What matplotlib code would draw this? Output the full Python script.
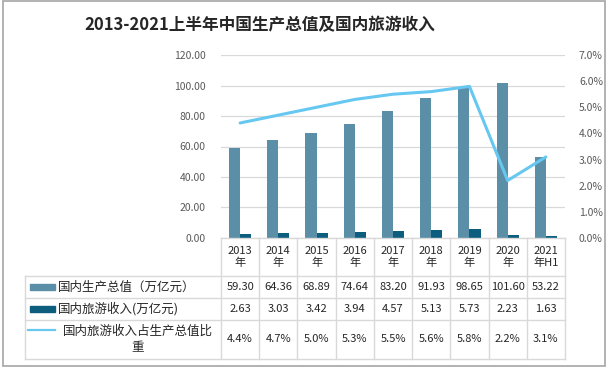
import numpy as np
import matplotlib
matplotlib.use('Agg')
import matplotlib.pyplot as plt
from matplotlib.patches import Rectangle
from matplotlib.lines import Line2D
from matplotlib.transforms import blended_transform_factory

plt.rcParams['font.family'] = ['Noto Sans CJK SC', 'DejaVu Sans']

title = '2013-2021上半年中国生产总值及国内旅游收入'
years = ['2013\n年', '2014\n年', '2015\n年', '2016\n年', '2017\n年',
         '2018\n年', '2019\n年', '2020\n年', '2021\n年H1']
gdp = [59.30, 64.36, 68.89, 74.64, 83.20, 91.93, 98.65, 101.60, 53.22]
tourism = [2.63, 3.03, 3.42, 3.94, 4.57, 5.13, 5.73, 2.23, 1.63]
share = [4.4, 4.7, 5.0, 5.3, 5.5, 5.6, 5.8, 2.2, 3.1]
row_labels = ['国内生产总值（万亿元）', '国内旅游收入(万亿元)', '国内旅游收入占生产总值比\n重']

c_gdp = '#5B8FA8'
c_tour = '#0D5E7E'
c_share = '#66C8F0'
c_grid = '#D9D9D9'
c_tick = '#595959'

W, H = 612, 369
fig = plt.figure(figsize=(W / 100, H / 100), dpi=100)


def fx(x):
    return x / W


def fy(y):
    return 1 - y / H


# main plot area in pixel terms
ax = fig.add_axes([fx(221), fy(238), (565 - 221) / W, (238 - 55) / H])
x = np.arange(len(gdp))
bw = 0.29
ax.bar(x - bw / 2, gdp, bw, color=c_gdp, zorder=2)
ax.bar(x + bw / 2, tourism, bw, color=c_tour, zorder=2)
ax.set_xlim(-0.5, len(gdp) - 0.5)
ax.set_ylim(0, 120)
ax.set_yticks(range(0, 121, 20))
ax.set_yticklabels([f'{v:.2f}' for v in range(0, 121, 20)])
ax.set_xticks([])
ax.grid(axis='y', color=c_grid, lw=0.9)
ax.set_axisbelow(True)
for s in ax.spines.values():
    s.set_visible(False)
ax.tick_params(length=0, labelsize=7.5, labelcolor=c_tick, pad=11)

ax2 = ax.twinx()
ax2.plot(x, share, color=c_share, lw=2.2, solid_capstyle='round', zorder=3)
ax2.set_ylim(0, 7)
ax2.set_yticks(range(8))
ax2.set_yticklabels([f'{v:.1f}%' for v in range(8)])
for s in ax2.spines.values():
    s.set_visible(False)
ax2.tick_params(length=0, labelsize=7.5, labelcolor=c_tick, pad=10)
ax2.set_xlim(-0.5, len(gdp) - 0.5)

# data table below the plot
blend = blended_transform_factory(ax.transData, fig.transFigure)
rows_y = [238, 276, 298, 320, 359]
n = len(gdp)

fig.add_artist(Line2D([-0.5, n - 0.5], [fy(238), fy(238)], transform=blend, color=c_grid, lw=1))
for yy in rows_y[1:]:
    fig.add_artist(Line2D([fx(25), fx(565)], [fy(yy), fy(yy)], transform=fig.transFigure, color=c_grid, lw=1))
for i in range(n + 1):
    fig.add_artist(Line2D([i - 0.5, i - 0.5], [fy(238), fy(359)], transform=blend, color=c_grid, lw=1))
fig.add_artist(Line2D([fx(25), fx(25)], [fy(276), fy(359)], transform=fig.transFigure, color=c_grid, lw=1))

for i in range(n):
    fig.text(i, fy(257), years[i], transform=blend, ha='center', va='center',
             fontsize=8, linespacing=1.2, color='#262626')
    fig.text(i, fy(287), f'{gdp[i]:.2f}', transform=blend, ha='center', va='center', fontsize=8, color='#262626')
    fig.text(i, fy(309), f'{tourism[i]:.2f}', transform=blend, ha='center', va='center', fontsize=8, color='#262626')
    fig.text(i, fy(339.5), f'{share[i]:.1f}%', transform=blend, ha='center', va='center', fontsize=8, color='#262626')

# legend keys in the row header column
fig.add_artist(Rectangle((fx(30), fy(290)), fx(25), 6 / H, transform=fig.transFigure, color=c_gdp))
fig.add_artist(Rectangle((fx(30), fy(312)), fx(25), 6 / H, transform=fig.transFigure, color=c_tour))
fig.add_artist(Line2D([fx(28), fx(55)], [fy(330), fy(330)], transform=fig.transFigure, color=c_share, lw=1.6))
fig.text(fx(58), fy(287), row_labels[0], ha='left', va='center', fontsize=9, color='#262626')
fig.text(fx(58), fy(309), row_labels[1], ha='left', va='center', fontsize=9, color='#262626')
fig.text(fx(138), fy(339.5), row_labels[2], ha='center', va='center', fontsize=9,
         multialignment='center', linespacing=1.25, color='#262626')

fig.text(fx(260), fy(25), title, ha='center', va='center', fontsize=12, fontweight='bold', color='#262626')

fig.add_artist(Rectangle((fx(3), fy(366)), (605 - 3) / W, (366 - 1) / H, transform=fig.transFigure,
                         fill=False, edgecolor='#A6A6A6', lw=1.2))

fig.savefig('out.png', dpi=100)
